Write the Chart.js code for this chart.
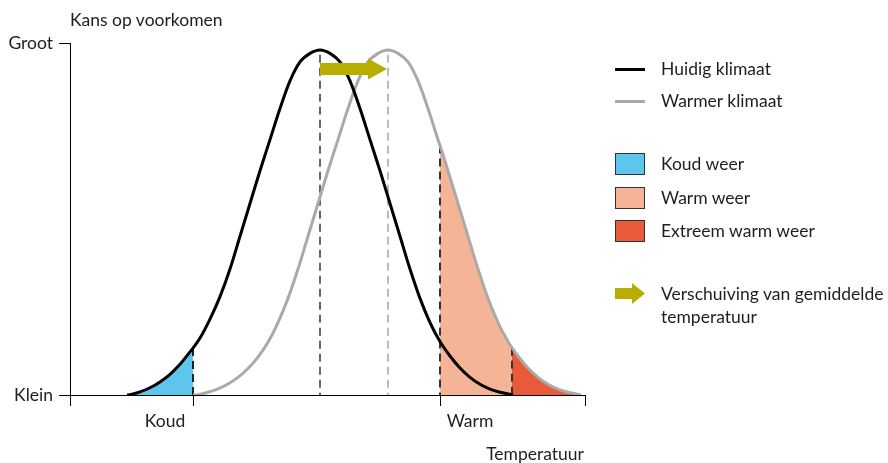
<!DOCTYPE html>
<html lang="nl">
<head>
<meta charset="UTF-8">
<title>Kans op voorkomen</title>
<script src="https://cdn.jsdelivr.net/npm/chart.js@4.4.1/dist/chart.umd.min.js"></script>
<style>
    body {
        margin: 0;
        background: #fff;
        font-family: Lato, "Open Sans", sans-serif;
        color: #1e1e1e;
    }
    #wrap {
        position: relative;
        width: 888px;
        height: 463px;
    }
    #chart {
        position: absolute;
        left: 0;
        top: 0;
    }
    .txt {
        position: absolute;
        font-size: 17.5px;
        line-height: 20px;
        white-space: nowrap;
    }
    .swatch-line {
        position: absolute;
        left: 615px;
        width: 30px;
        height: 3px;
    }
    .swatch-box {
        position: absolute;
        left: 615px;
        width: 28px;
        height: 20px;
        border: 1px solid #333;
    }
</style>
</head>
<body>
<div id="wrap">
    <canvas id="chart" width="888" height="463"></canvas>

    <div class="txt" style="left:70px; top:10px;">Kans op voorkomen</div>
    <div class="txt" style="right:304px; top:444px;">Temperatuur</div>

    <!-- legend -->
    <div class="swatch-line" style="top:68px; background:#000;"></div>
    <div class="txt" style="left:661px; top:59px;">Huidig klimaat</div>
    <div class="swatch-line" style="top:100px; background:#aaa;"></div>
    <div class="txt" style="left:661px; top:91px;">Warmer klimaat</div>

    <div class="swatch-box" style="top:153px; background:#5ec5ed;"></div>
    <div class="txt" style="left:661px; top:154px;">Koud weer</div>
    <div class="swatch-box" style="top:187px; background:#f5b495;"></div>
    <div class="txt" style="left:661px; top:188px;">Warm weer</div>
    <div class="swatch-box" style="top:220px; background:#e85a3a;"></div>
    <div class="txt" style="left:661px; top:221px;">Extreem warm weer</div>

    <svg style="position:absolute; left:615px; top:283px;" width="31" height="22">
        <polygon points="0,5 17,5 17,0 30,10.5 17,21 17,16 0,16" fill="#b8ae00"/>
    </svg>
    <div class="txt" style="left:661px; top:284px;">Verschuiving van gemiddelde</div>
    <div class="txt" style="left:661px; top:307px;">temperatuur</div>
</div>

<script>
    // huidig klimaat (zwart)
    const huidigX = [11.4, 12, 14, 16, 18, 20, 22, 24, 24.6, 26, 28, 30, 32, 34, 36, 38, 40, 42, 44, 46, 48, 50,
                     52, 54, 56, 58, 60, 62, 64, 66, 68, 70, 72, 74, 76, 78, 80, 82, 84, 86, 88, 88.6];
    const huidigY = [0, 0.1, 0.9, 2.1, 3.8, 6.0, 8.9, 12.5, 13.6, 16.5, 22.0, 28.5, 36.5, 46, 55.5, 65, 74, 83, 91, 96.5, 99, 100,
                     99, 96.5, 91, 83, 74, 65, 55.5, 46, 36.5, 28, 21, 15.5, 11.3, 7.8, 5.1, 3.1, 1.7, 0.8, 0.2, 0];

    // warmer klimaat (grijs)
    const warmerX = [24.6, 25.6, 27.6, 29.6, 31.6, 33.6, 35.6, 37.6, 39.6, 41.6, 43.6, 45.6, 47.6, 49.6, 51.6, 53.6,
                     55.6, 57.6, 59.6, 61.6, 63.6, 65.6, 67.6, 69.6, 71.6, 73.6, 74.0, 75.6, 77.6, 79.6, 81.6,
                     83.6, 85.6, 87.6, 88.4, 89.6, 91.6, 93.6, 95.6, 97.6, 99.6, 101.6, 102.2];
    const warmerY = [0, 0.1, 0.8, 1.8, 3.2, 5.1, 7.7, 11, 15.3, 21, 28, 36.5, 46, 55.5, 65, 74,
                     83, 91, 96.5, 99, 100, 99, 96.5, 91, 83, 74, 72.3, 65, 55.5, 46, 36.5,
                     28, 21, 15.5, 13.7, 11.3, 7.8, 5.1, 3.1, 1.7, 0.8, 0.2, 0];

    // grenzen
    const koudGrens = 24.6;
    const warmGrens = 74.0;
    const extreemGrens = 88.4;

    // verticale stippellijnen
    const guideX = [24.6, 50, 63.6, 74.0, 88.4];
    const guideTop = [13.6, 98.6, 98.6, 72.3, 13.7];
    const guideColor = ['#222', '#666', '#bbb', '#333', '#333'];

    // verschuiving pijl
    const shiftFrom = 50;
    const shiftTo = 63.4;
    const shiftLevel = 94.5;

    // assen
    const xTickValues = [0, 19, 24.6, 74.0, 80, 103];
    const xTickLabels = ['', 'Koud', '', '', 'Warm', ''];
    const yTickValues = [0, 102];
    const yTickLabels = ['Klein', 'Groot'];

    const pts = (xs, ys) => xs.map((x, i) => ({ x: x, y: ys[i] }));
    const huidig = pts(huidigX, huidigY);
    const warmer = pts(warmerX, warmerY);

    const koudArea = huidig.filter(p => p.x <= koudGrens);
    const warmArea = warmer.filter(p => p.x >= warmGrens && p.x <= extreemGrens);
    const extreemArea = warmer.filter(p => p.x >= extreemGrens);

    const areaSet = (data, color) => ({
        data: data,
        fill: 'origin',
        backgroundColor: color,
        borderWidth: 0,
        pointRadius: 0,
        cubicInterpolationMode: 'monotone',
        order: 3
    });

    const guideSets = guideX.map((x, i) => ({
        data: [{ x: x, y: guideTop[i] }, { x: x, y: 0 }],
        borderColor: guideColor[i],
        borderWidth: 2,
        borderDash: [8, 5],
        pointRadius: 0,
        fill: false,
        order: 2
    }));

    const shiftArrow = {
        id: 'shiftArrow',
        afterDatasetsDraw(chart) {
            const { ctx, scales } = chart;
            const x0 = scales.x.getPixelForValue(shiftFrom);
            const x1 = scales.x.getPixelForValue(shiftTo);
            const y = scales.y.getPixelForValue(shiftLevel);
            const head = 19;
            ctx.save();
            ctx.fillStyle = '#b8ae00';
            ctx.beginPath();
            ctx.moveTo(x0, y - 6);
            ctx.lineTo(x1 - head, y - 6);
            ctx.lineTo(x1 - head, y - 10.5);
            ctx.lineTo(x1, y);
            ctx.lineTo(x1 - head, y + 10.5);
            ctx.lineTo(x1 - head, y + 6);
            ctx.lineTo(x0, y + 6);
            ctx.closePath();
            ctx.fill();
            ctx.restore();
        }
    };

    Chart.defaults.font.family = 'Lato, "Open Sans", sans-serif';
    Chart.defaults.font.size = 17.5;
    Chart.defaults.color = '#1e1e1e';

    new Chart(document.getElementById('chart'), {
        type: 'line',
        data: {
            datasets: [
                {
                    label: 'Huidig klimaat',
                    data: huidig,
                    borderColor: '#000',
                    borderWidth: 3,
                    pointRadius: 0,
                    fill: false,
                    cubicInterpolationMode: 'monotone',
                    order: 0
                },
                {
                    label: 'Warmer klimaat',
                    data: warmer,
                    borderColor: '#aaa',
                    borderWidth: 3,
                    pointRadius: 0,
                    fill: false,
                    cubicInterpolationMode: 'monotone',
                    order: 1
                },
                ...guideSets,
                areaSet(koudArea, '#5ec5ed'),
                areaSet(warmArea, '#f5b495'),
                areaSet(extreemArea, '#e85a3a')
            ]
        },
        options: {
            responsive: false,
            animation: false,
            layout: { padding: { left: 0, right: 303, top: 43, bottom: 0 } },
            plugins: {
                legend: { display: false },
                tooltip: { enabled: false }
            },
            scales: {
                x: {
                    type: 'linear',
                    min: 0,
                    max: 103,
                    afterFit: s => { s.height = 68; },
                    afterBuildTicks: s => { s.ticks = xTickValues.map(v => ({ value: v })); },
                    border: { display: true, color: '#000', width: 1 },
                    grid: {
                        drawOnChartArea: false,
                        tickLength: 11,
                        tickColor: c => (c.index !== undefined && xTickLabels[c.index]) ? 'rgba(0,0,0,0)' : '#000'
                    },
                    ticks: {
                        autoSkip: false,
                        maxRotation: 0,
                        padding: 5,
                        callback: (v, i) => xTickLabels[i]
                    }
                },
                y: {
                    min: 0,
                    max: 102,
                    afterFit: s => { s.width = 70; },
                    afterBuildTicks: s => { s.ticks = yTickValues.map(v => ({ value: v })); },
                    border: { display: true, color: '#000', width: 1 },
                    grid: {
                        drawOnChartArea: false,
                        tickLength: 11,
                        tickColor: '#000'
                    },
                    ticks: {
                        autoSkip: false,
                        padding: 6,
                        callback: (v, i) => yTickLabels[i]
                    }
                }
            }
        },
        plugins: [shiftArrow]
    });
</script>
</body>
</html>
